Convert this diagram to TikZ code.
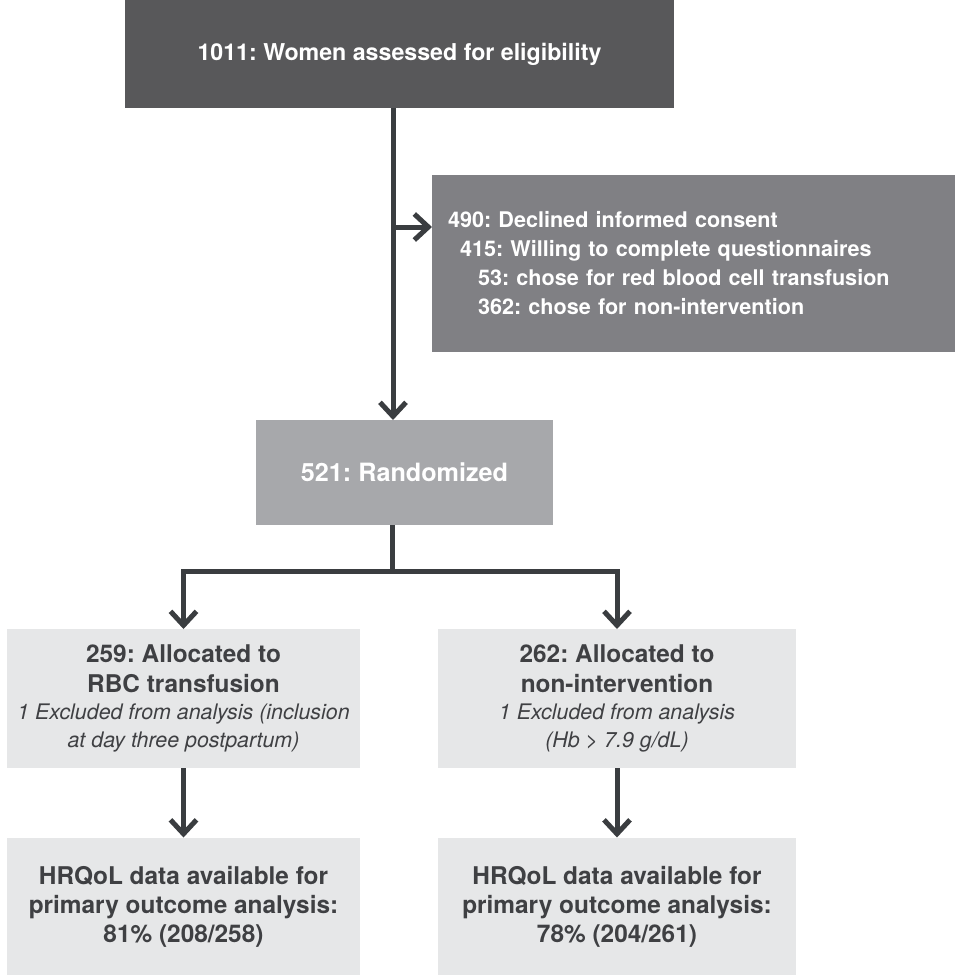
\documentclass[tikz,border=0pt]{standalone}
\usepackage{fontspec}
\setmainfont{TeX Gyre Heros}
\usepackage{xcolor}
\usepackage{tikz}
\usetikzlibrary{shapes.geometric, calc, arrows.meta}
\frenchspacing
\definecolor{boxdark}{HTML}{58585A}
\definecolor{boxmid}{HTML}{808084}
\definecolor{boxgrey}{HTML}{A7A8AB}
\definecolor{boxlight}{HTML}{E6E7E8}
\definecolor{linegrey}{HTML}{3A3D40}
\definecolor{textgrey}{HTML}{3F4043}
\tikzstyle{flowbox}=[rectangle, inner sep=0pt, outer sep=0pt]
\tikzstyle{darkbox}=[flowbox, fill=boxdark, text=white, font=\bfseries\fontsize{11.6}{14}\selectfont]
\tikzstyle{sidebox}=[flowbox, fill=boxmid, text=white, align=left, inner xsep=8pt, font=\bfseries\fontsize{10.8}{14.5}\selectfont]
\tikzstyle{greybox}=[flowbox, fill=boxgrey, text=white, font=\bfseries\fontsize{12.6}{15}\selectfont]
\tikzstyle{lightbox}=[flowbox, fill=boxlight, text=textgrey, align=center, font=\bfseries\fontsize{12.2}{15}\selectfont]
\newcommand{\excl}[1]{{\mdseries\itshape\fontsize{10.7}{14}\selectfont #1}}

\begin{document}
\begin{tikzpicture}[line cap=butt,line join=miter,>={Straight Barb[length=7pt,width=13pt]},x=0.5pt,y=-0.5pt]
\useasboundingbox (0,0) rectangle (955,975);
\node [darkbox, minimum width=274.5pt, minimum height=54pt] (elig) at (399.5,54) {1011: Women assessed for eligibility};
\node [sidebox, text width=245.5pt, minimum height=88.5pt] (declined) at (693.5,263.5) {490: Declined informed consent\\
\hspace*{6pt}415: Willing to complete questionnaires\\
\hspace*{15pt}53: chose for red blood cell transfusion\\
\hspace*{15pt}362: chose for non-intervention};
\node [greybox, minimum width=148.5pt, minimum height=52.5pt] (rand) at (404.5,472.5) {521: Randomized};
\node [lightbox, minimum width=176.5pt, minimum height=69.5pt] (rbc) at (183.5,698.5) {259: Allocated to\\RBC transfusion\\[-1.5pt]\excl{1 Excluded from analysis (inclusion}\\[-1pt]\excl{at day three postpartum)}};
\node [lightbox, minimum width=179pt, minimum height=69.5pt] (nonint) at (617,698.5) {262: Allocated to\\non-intervention\\[-1.5pt]\excl{1 Excluded from analysis}\\[-1pt]\excl{(Hb > 7.9 g/dL)}};
\node [lightbox, minimum width=176.5pt, minimum height=69pt, font=\bfseries\fontsize{12.2}{14.5}\selectfont] (hrq1) at (183.5,906.5) {HRQoL data available for\\primary outcome analysis:\\81\% (208/258)};
\node [lightbox, minimum width=179pt, minimum height=69pt, font=\bfseries\fontsize{12.2}{14.5}\selectfont] (hrq2) at (617,906.5) {HRQoL data available for\\primary outcome analysis:\\78\% (204/261)};
\coordinate (trunk) at (393,0);
\coordinate (side) at (0,227);
\coordinate (split) at (392,571);
\draw [line width=2.5pt, color=linegrey, ->] (elig.south -| trunk) -- (rand.north -| trunk);
\draw [line width=2.5pt, color=linegrey, ->] (trunk |- side) -- (declined.west |- side);
\draw [line width=2.5pt, color=linegrey] (rand.south -| split) -- (split);
\draw [line width=2.5pt, color=linegrey, ->] (split) -| (rbc.north);
\draw [line width=2.5pt, color=linegrey, ->] (split) -| (nonint.north);
\draw [line width=2.5pt, color=linegrey, ->] (rbc) -- (hrq1);
\draw [line width=2.5pt, color=linegrey, ->] (nonint) -- (hrq2);
\end{tikzpicture}
\end{document}
